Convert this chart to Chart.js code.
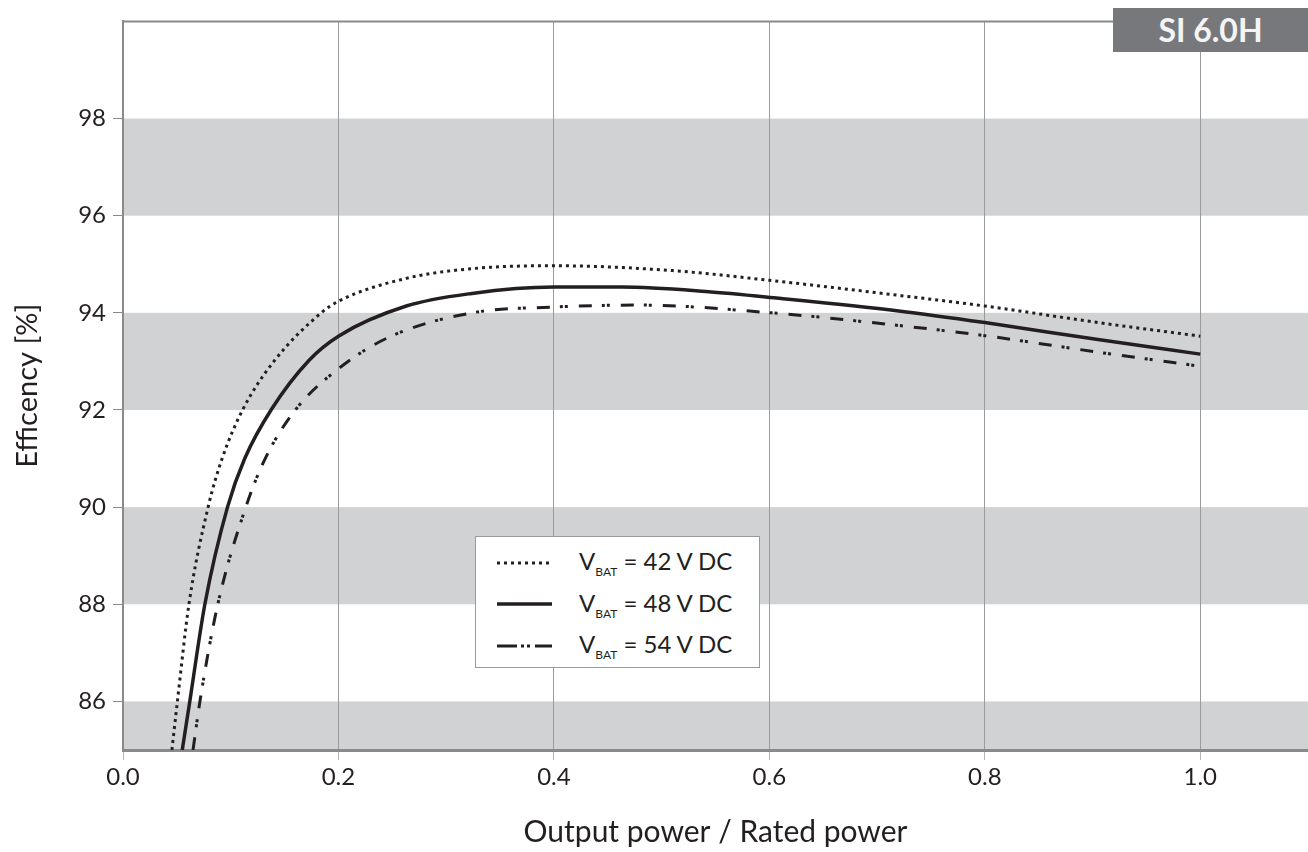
<!DOCTYPE html>
<html>
<head>
<meta charset="utf-8">
<script src="https://cdn.jsdelivr.net/npm/chart.js@4.4.1/dist/chart.umd.min.js"></script>
<style>
    body { margin: 0; background: #fff; font-family: Lato, "Open Sans", sans-serif; }
    #wrap { position: relative; width: 1308px; height: 852px; }
    #badge {
        position: absolute; left: 1113px; top: 8px; width: 195px; height: 44px;
        background: #77787b; color: #f4f4f4; font-weight: bold; font-size: 32px;
        line-height: 44px; text-align: center;
    }
    #legend {
        position: absolute; left: 475px; top: 536px; width: 285px; height: 132px;
        background: #fff; border: 1px solid #9a9a9a; box-sizing: border-box;
        padding-top: 5px;
    }
    .row { height: 41.5px; display: flex; align-items: center; color: #231f20; font-size: 24px; }
    .row svg { margin-left: 21px; margin-right: 27px; }
    .row sub { font-size: 12px; vertical-align: -6px; }
</style>
</head>
<body>
<div id="wrap">
    <canvas id="myChart" width="1308" height="852"></canvas>
    <div id="badge">SI 6.0H</div>
    <div id="legend"></div>
</div>
<script>
(function () {
    'use strict';

    // values
    var x42 = [0.0454, 0.0505, 0.0612, 0.079, 0.092, 0.111, 0.14, 0.184, 0.2, 0.263, 0.324, 0.4, 0.51, 0.6, 0.72, 0.8, 0.905, 1.0];
    var y42 = [85.0, 86.0, 88.0, 90.0, 91.0, 92.0, 93.0, 94.0, 94.24, 94.71, 94.91, 94.97, 94.87, 94.67, 94.36, 94.14, 93.8, 93.52];

    var x48 = [0.055, 0.062, 0.076, 0.097, 0.113, 0.138, 0.173, 0.2, 0.263, 0.324, 0.4, 0.463, 0.541, 0.609, 0.72, 0.8, 0.905, 1.0];
    var y48 = [85.0, 86.0, 88.0, 90.0, 91.0, 92.02, 93.03, 93.52, 94.14, 94.4, 94.53, 94.53, 94.44, 94.3, 94.04, 93.8, 93.45, 93.15];

    var x54 = [0.065, 0.0714, 0.088, 0.114, 0.132, 0.16, 0.2, 0.247, 0.324, 0.4, 0.479, 0.602, 0.72, 0.8, 0.905, 1.0];
    var y54 = [85.0, 86.0, 88.0, 90.0, 91.0, 92.0, 92.85, 93.5, 94.0, 94.12, 94.16, 94.0, 93.74, 93.53, 93.19, 92.9];

    var xTicks = [0.0, 0.2, 0.4, 0.6, 0.8, 1.0];
    var yTicks = [86, 88, 90, 92, 94, 96, 98];
    var bands = [[84, 86], [88, 90], [92, 94], [96, 98]];
    var labels = ['42', '48', '54'];

    var textColor = '#231f20';
    var fontFamily = 'Lato, "Open Sans", sans-serif';

    var toPoints = function (xs, ys) {
        var pts = [];
        for (var i = 0; i < xs.length; i++) {
            pts.push({ x: xs[i], y: ys[i] });
        }
        return pts;
    };

    var dotted = [3, 4];
    var dashDot = [13, 10, 3, 2, 3, 11];
    var legendDash = ['3 4', 'none', '20 4 3 3 3 5 20'];

    var datasets = [
        { label: labels[0], data: toPoints(x42, y42), borderDash: dotted, borderWidth: 3 },
        { label: labels[1], data: toPoints(x48, y48), borderDash: [], borderWidth: 3.5 },
        { label: labels[2], data: toPoints(x54, y54), borderDash: dashDot, borderWidth: 3 }
    ];
    datasets.forEach(function (ds) {
        ds.borderColor = '#231f20';
        ds.pointRadius = 0;
        ds.fill = false;
        ds.cubicInterpolationMode = 'monotone';
        ds.borderCapStyle = 'butt';
    });

    // grey bands + top frame line
    var bandPlugin = {
        id: 'bands',
        beforeDraw: function (chart) {
            var ctx = chart.ctx;
            var area = chart.chartArea;
            var y = chart.scales.y;
            ctx.save();
            ctx.fillStyle = '#d1d2d4';
            bands.forEach(function (b) {
                var top = Math.max(y.getPixelForValue(b[1]), area.top);
                var bottom = Math.min(y.getPixelForValue(b[0]), area.bottom);
                ctx.fillRect(area.left, top, area.right - area.left, bottom - top);
            });
            ctx.restore();
        },
        afterDraw: function (chart) {
            var ctx = chart.ctx;
            var area = chart.chartArea;
            ctx.save();
            ctx.strokeStyle = '#8a8a8a';
            ctx.lineWidth = 2;
            ctx.beginPath();
            ctx.moveTo(area.left - 1, area.top);
            ctx.lineTo(area.right, area.top);
            ctx.stroke();
            ctx.restore();
        }
    };

    var ctx = document.getElementById('myChart').getContext('2d');
    var chart = new Chart(ctx, {
        type: 'line',
        data: { datasets: datasets },
        plugins: [bandPlugin],
        options: {
            responsive: false,
            animation: false,
            layout: { padding: { top: 7, right: 0, left: 0, bottom: 0 } },
            plugins: { legend: { display: false }, tooltip: { enabled: false } },
            scales: {
                x: {
                    type: 'linear',
                    min: 0,
                    max: 1.1,
                    afterBuildTicks: function (scale) {
                        scale.ticks = xTicks.map(function (v) { return { value: v }; });
                    },
                    afterFit: function (scale) { scale.height = 102; },
                    ticks: {
                        color: textColor,
                        font: { family: fontFamily, size: 24 },
                        padding: 3,
                        maxRotation: 0,
                        callback: function (v) { return v.toFixed(1); }
                    },
                    grid: { color: '#9b9b9b', lineWidth: 1, tickLength: 10, tickColor: '#b5b5b5' },
                    border: { color: '#8a8a8a', width: 3 },
                    title: {
                        display: true,
                        text: 'Output power / Rated power',
                        color: textColor,
                        font: { family: fontFamily, size: 30 },
                        padding: { top: 0, bottom: 2 }
                    }
                },
                y: {
                    min: 85,
                    max: 100,
                    afterBuildTicks: function (scale) {
                        scale.ticks = yTicks.map(function (v) { return { value: v }; });
                    },
                    afterFit: function (scale) { scale.width = 123; },
                    ticks: {
                        color: textColor,
                        font: { family: fontFamily, size: 24 },
                        padding: 7
                    },
                    grid: { drawOnChartArea: false, tickLength: 10, color: '#8a8a8a', lineWidth: 1 },
                    border: { color: '#8a8a8a', width: 2 },
                    title: {
                        display: true,
                        text: 'Efficency [%]',
                        color: textColor,
                        font: { family: fontFamily, size: 29 },
                        padding: { top: 10, bottom: 0 }
                    }
                }
            }
        }
    });

    // legend with subscripts, drawn from the datasets
    var legend = document.getElementById('legend');
    chart.data.datasets.forEach(function (ds, i) {
        var row = document.createElement('div');
        row.className = 'row';
        row.innerHTML = '<svg width="55" height="8"><line x1="0" y1="4" x2="55" y2="4" stroke="#231f20" stroke-width="' +
            ds.borderWidth + '" stroke-dasharray="' + legendDash[i] + '"/></svg>' +
            '<span>V<sub>BAT</sub> = ' + ds.label + ' V DC</span>';
        legend.appendChild(row);
    });
}());
</script>
</body>
</html>
